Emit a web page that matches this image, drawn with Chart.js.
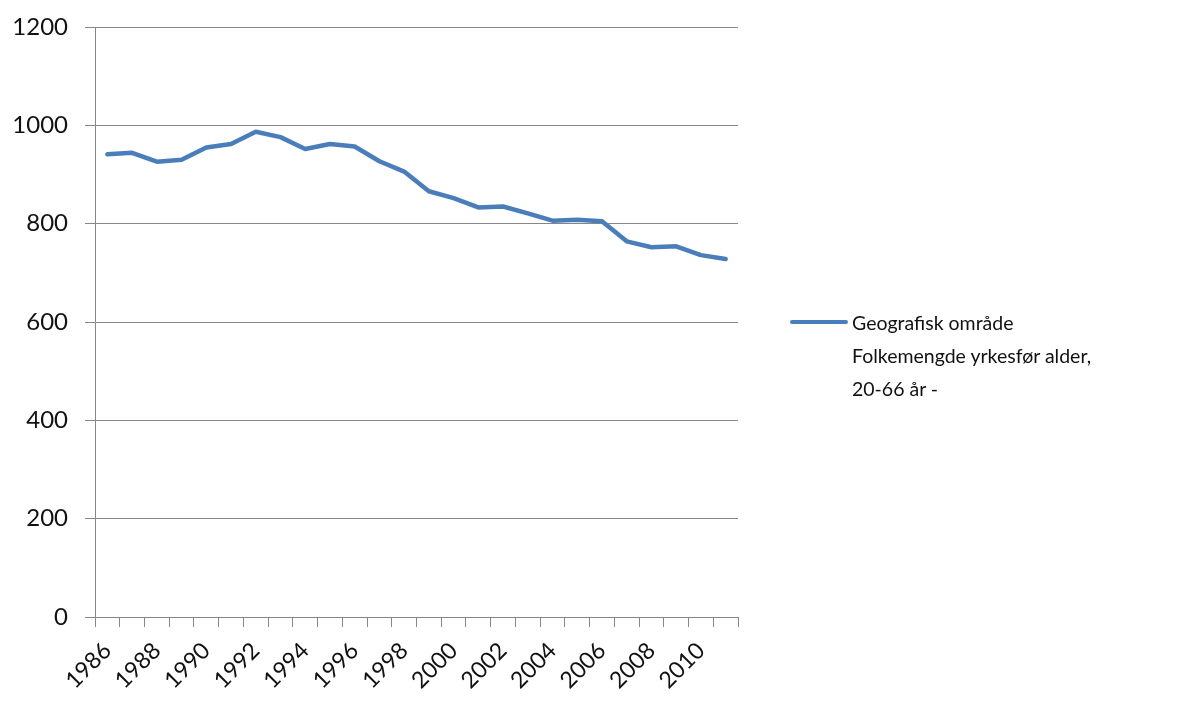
<!DOCTYPE html>
<html>
<head>
<meta charset="utf-8">
<script src="https://cdn.jsdelivr.net/npm/chart.js@4/dist/chart.umd.min.js"></script>
<style>
  html, body { margin: 0; padding: 0; background: #fff; }
  #wrap { position: relative; width: 1179px; height: 704px; }
  #legend {
    position: absolute; left: 790px; top: 306px;
    font-family: Lato, "Open Sans", sans-serif; font-size: 19.5px; line-height: 33px; color: #111;
  }
  #legend .swatch {
    position: absolute; left: 0; top: 14px; width: 58px; height: 4px;
    background: #4a7ebb; border-radius: 2px;
  }
  #legend .text { margin-left: 62px; }
</style>
</head>
<body>
<div id="wrap">
  <canvas id="chart" width="1179" height="704"></canvas>
  <div id="legend"></div>
</div>
<script>
const years = ['1986','1987','1988','1989','1990','1991','1992','1993','1994','1995','1996','1997','1998',
  '1999','2000','2001','2002','2003','2004','2005','2006','2007','2008','2009','2010','2011'];
const workforce = [941, 944, 926, 930, 955, 962, 987, 976, 952, 962, 957, 927, 906,
  866, 852, 833, 835, 821, 806, 808, 805, 764, 752, 754, 736, 728];
const seriesLabel = ['Geografisk område', 'Folkemengde yrkesfør alder,', '20-66 år -'];
const yTicks = [0, 200, 400, 600, 800, 1000, 1200];

const fontFamily = 'Lato, "Open Sans", sans-serif';
const lineColor = '#4a7ebb';

// legend as html on the right
const legendEl = document.getElementById('legend');
legendEl.innerHTML = '<div class="swatch"></div><div class="text">' + seriesLabel.join('<br>') + '</div>';

new Chart(document.getElementById('chart'), {
  type: 'line',
  data: {
    labels: years,
    datasets: [{
      label: seriesLabel.join(' '),
      data: workforce,
      borderColor: lineColor,
      backgroundColor: lineColor,
      borderWidth: 4.5,
      pointRadius: 0,
      tension: 0,
      borderJoinStyle: 'round',
      borderCapStyle: 'round'
    }]
  },
  options: {
    responsive: false,
    animation: false,
    layout: { padding: { left: 0, right: 441, top: 27, bottom: 0 } },
    plugins: {
      legend: { display: false },
      tooltip: { enabled: false }
    },
    scales: {
      x: {
        offset: true,
        grid: {
          offset: true,
          drawOnChartArea: false,
          drawTicks: true,
          tickLength: 10,
          color: '#878787'
        },
        border: { color: '#878787', width: 1 },
        ticks: {
          autoSkip: false,
          maxRotation: 45,
          minRotation: 45,
          padding: 10,
          color: '#111',
          font: { family: fontFamily, size: 23 },
          callback: (v, i) => (i % 2 === 0 ? years[i] : '')
        },
        afterFit: s => { s.height = 87; }
      },
      y: {
        min: 0,
        max: 1200,
        afterBuildTicks: s => { s.ticks = yTicks.map(v => ({ value: v })); },
        grid: { color: '#878787', tickLength: 10 },
        border: { color: '#878787', width: 1 },
        ticks: {
          padding: 17,
          color: '#111',
          font: { family: fontFamily, size: 24 },
          callback: v => String(v)
        },
        // fixed width, and let the layout padding alone set the top edge
        afterFit: s => { s.width = 95; s.paddingTop = 0; s.paddingBottom = 0; }
      }
    }
  }
});
</script>
</body>
</html>
